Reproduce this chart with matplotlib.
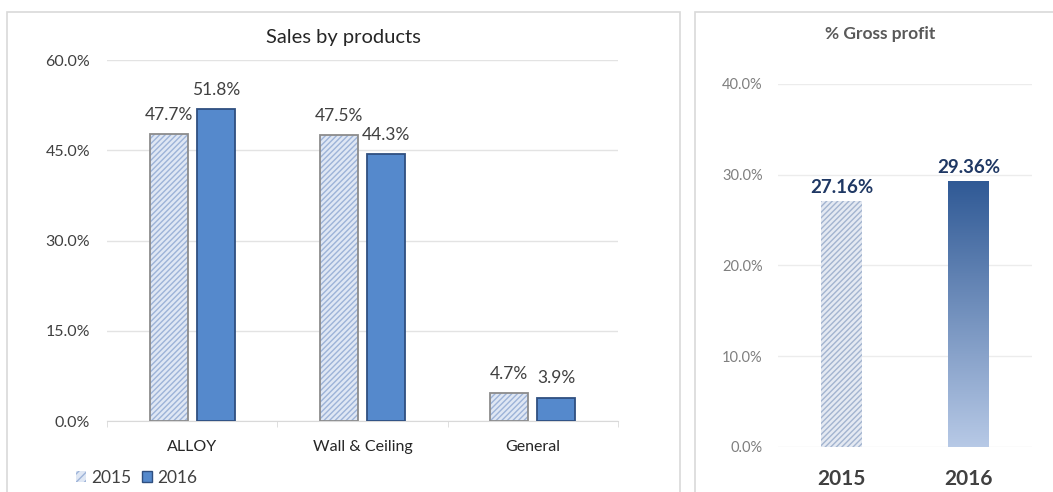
import numpy as np
import matplotlib
matplotlib.use("Agg")
import matplotlib.pyplot as plt
from matplotlib.patches import Rectangle, Patch
from matplotlib.colors import LinearSegmentedColormap
from matplotlib.ticker import FuncFormatter, FixedLocator

plt.rcParams['font.family'] = ['Lato', 'DejaVu Sans']

categories = ['ALLOY', 'Wall & Ceiling', 'General']
sales_2015 = [47.7, 47.5, 4.7]
sales_2016 = [51.8, 44.3, 3.9]
years = ['2015', '2016']
gross_profit = [27.16, 29.36]

c15_face = '#dfe7f4'
c15_hatch = '#9db3d8'
c16_face = '#5589cc'
c16_edge = '#2f4f80'
grid_c = '#e3e3e3'
pct = FuncFormatter(lambda v, p: f'{v:.1f}%')

fig = plt.figure(figsize=(10.53, 4.92), dpi=100)

# panel frames
fig.patches.append(Rectangle((7 / 1053, -0.1), 673 / 1053, 1.1 - 12 / 492,
                             transform=fig.transFigure, fill=False,
                             edgecolor='#d9d9d9', lw=1.2))
fig.patches.append(Rectangle((695 / 1053, -0.1), 0.4, 1.1 - 12 / 492,
                             transform=fig.transFigure, fill=False,
                             edgecolor='#d9d9d9', lw=1.2))

# ---- left: sales by products
ax = fig.add_axes([0.1016, 0.1443, 0.4853, 0.7337])
x = np.arange(len(categories))
w = 0.223
off = 0.138
ax.bar(x - off, sales_2015, w, color=c15_face, edgecolor=c15_hatch,
       hatch='//////', lw=0, zorder=2)
ax.bar(x - off, sales_2015, w, fill=False, edgecolor='#8c8c8c', lw=1.3,
       zorder=3)
ax.bar(x + off, sales_2016, w, color=c16_face, edgecolor=c16_edge, lw=1.3,
       zorder=3)
for xi, v in zip(x - off, sales_2015):
    ax.annotate(f'{v:.1f}%', (xi, v), xytext=(0, 8), textcoords='offset points',
                ha='center', va='bottom', fontsize=12.5, color='#404040')
for xi, v in zip(x + off, sales_2016):
    ax.annotate(f'{v:.1f}%', (xi, v), xytext=(0, 8), textcoords='offset points',
                ha='center', va='bottom', fontsize=12.5, color='#404040')

ax.set_xlim(-0.5, 2.5)
ax.set_ylim(0, 60)
ax.set_yticks([0, 15, 30, 45, 60])
ax.yaxis.set_major_formatter(pct)
ax.set_xticks(x)
ax.set_xticklabels(categories)
ax.xaxis.set_minor_locator(FixedLocator([-0.5, 0.5, 1.5, 2.5]))
ax.tick_params(axis='x', which='major', length=0, pad=14, labelsize=11.5,
               labelcolor='#262626')
ax.tick_params(axis='x', which='minor', length=4, color='#d9d9d9')
ax.tick_params(axis='y', length=0, pad=12, labelsize=11.5, labelcolor='#404040')
ax.grid(axis='y', color=grid_c, lw=1, zorder=0)
for s in ['top', 'right', 'left']:
    ax.spines[s].set_visible(False)
ax.spines['bottom'].set_color('#d9d9d9')
ax.set_axisbelow(True)
fig.text(343 / 1053, 1 - 37 / 492, 'Sales by products', fontsize=14.5,
         color='#262626', ha='center', va='center')

leg = fig.legend(handles=[Patch(facecolor=c15_face, edgecolor=c15_hatch, hatch='////', lw=0),
                          Patch(facecolor=c16_face, edgecolor=c16_edge)],
                 labels=years, loc='center left',
                 bbox_to_anchor=(60 / 1053, 1 - 478 / 492), ncol=2, frameon=False,
                 fontsize=12.5, handlelength=0.6, handleheight=0.6,
                 handletextpad=0.3, columnspacing=0.6)
for t in leg.get_texts():
    t.set_color('#404040')

# ---- right: gross profit
ax2 = fig.add_axes([0.7388, 0.0915, 0.2412, 0.7378])
x2 = np.arange(len(years))
w2 = 0.317
b15 = ax2.bar(x2[0], gross_profit[0], w2, color='#e4e9f2', edgecolor='#a3b4d0',
              hatch='//////', lw=0, zorder=2)
b16 = ax2.bar(x2[1], gross_profit[1], w2, color='none', lw=0, zorder=2)
grad = LinearSegmentedColormap.from_list('g', ['#b7c9e6', '#2f5995'])
p = b16.patches[0]
gx0, gy0 = p.get_x(), p.get_y()
im = ax2.imshow(np.linspace(0, 1, 256).reshape(-1, 1), cmap=grad, origin='lower',
                extent=[gx0, gx0 + p.get_width(), gy0, gy0 + p.get_height()],
                aspect='auto', zorder=2)
im.set_clip_path(p)
for xi, v in zip(x2, gross_profit):
    ax2.annotate(f'{v:.2f}%', (xi, v), xytext=(0, 3), textcoords='offset points',
                 ha='center', va='bottom', fontsize=13.5, fontweight='bold',
                 color='#1f3864')
ax2.set_xlim(-0.5, 1.5)
ax2.set_ylim(0, 40)
ax2.set_yticks([0, 10, 20, 30, 40])
ax2.yaxis.set_major_formatter(pct)
ax2.set_xticks(x2)
ax2.set_xticklabels(years)
ax2.tick_params(axis='x', length=0, pad=16, labelsize=15, labelcolor='#404040')
for lb in ax2.get_xticklabels():
    lb.set_fontweight('bold')
ax2.tick_params(axis='y', length=0, pad=11, labelsize=10.5, labelcolor='#7f7f7f')
ax2.grid(axis='y', color='#ececec', lw=1, zorder=0)
for s in ax2.spines.values():
    s.set_visible(False)
ax2.set_axisbelow(True)
fig.text(880 / 1053, 1 - 34 / 492, '% Gross profit', fontsize=12.5,
         fontweight='bold', color='#595959', ha='center', va='center')

fig.savefig('out.png', dpi=100)
